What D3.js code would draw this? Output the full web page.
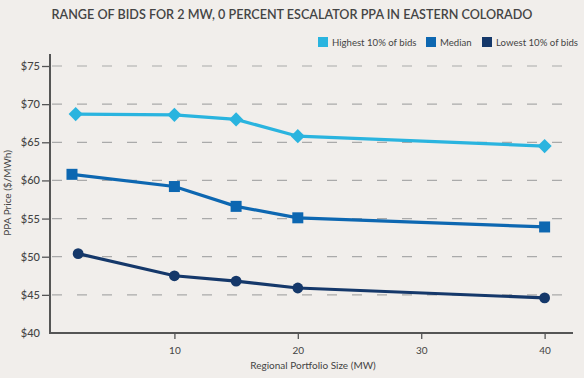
<!DOCTYPE html>
<html><head><meta charset="utf-8">
<script src="https://cdn.jsdelivr.net/npm/d3@7"></script>
<style>
html,body{margin:0;padding:0;background:#f1eeeb;}
text{font-family:Lato,"Open Sans",sans-serif;}
</style></head>
<body><svg id="c" width="584" height="378"></svg>
<script>
const title = "RANGE OF BIDS FOR 2 MW, 0 PERCENT ESCALATOR PPA IN EASTERN COLORADO";
const seriesNames = ["Highest 10% of bids", "Median", "Lowest 10% of bids"];
const seriesColors = ["#2ab4df", "#0d67b1", "#15386a"];
const highestX = [2, 10, 15, 20, 40];
const highestY = [68.7, 68.6, 68.0, 65.8, 64.5];
const medianX = [1.7, 10, 15, 20, 40];
const medianY = [60.8, 59.2, 56.6, 55.1, 53.9];
const lowestX = [2.2, 10, 15, 20, 40];
const lowestY = [50.4, 47.5, 46.8, 45.9, 44.6];
const xTicks = [10, 20, 30, 40];
const yTicks = [40, 45, 50, 55, 60, 65, 70, 75];
const xLabel = "Regional Portfolio Size (MW)";
const yLabel = "PPA Price ($/MWh)";

const svg = d3.select("#c");
const x = d3.scaleLinear().domain([0, 42.3]).range([51, 573]);
const y = d3.scaleLinear().domain([40, 75]).range([333, 66]);

svg.append("text").attr("x", 292).attr("y", 19).attr("text-anchor", "middle")
  .attr("font-size", 12.6).attr("fill", "#444").attr("font-weight", 600).text(title);

// grid
svg.append("g").selectAll("line").data(yTicks.filter(d => d > 40)).join("line")
  .attr("x1", 52).attr("x2", 575).attr("y1", d => y(d)).attr("y2", d => y(d))
  .attr("stroke", "#aaa").attr("stroke-width", 1.2).attr("stroke-dasharray", "10,15");

// y axis
const ya = svg.append("g").attr("transform", "translate(50,0)")
  .call(d3.axisLeft(y).tickValues(yTicks).tickFormat(d => "$" + d).tickSize(8).tickPadding(3));
ya.select(".domain").attr("stroke", "#555").attr("stroke-width", 2).attr("d", `M0,54V${y(40)}`);
ya.selectAll(".tick line").attr("stroke", "#555").attr("stroke-width", 1.3);
ya.selectAll(".tick").filter(d => d === 40).select("line").remove();
ya.selectAll(".tick text").attr("font-size", 11).attr("fill", "#444").attr("font-weight", 500)
  .attr("font-family", "Lato, sans-serif").attr("x", -10);

// x axis
const xa = svg.append("g").attr("transform", `translate(0,${y(40)})`)
  .call(d3.axisBottom(x).tickValues(xTicks).tickSize(6).tickPadding(8));
xa.select(".domain").attr("stroke", "#555").attr("stroke-width", 2).attr("d", "M49,0H573");
xa.selectAll(".tick line").attr("stroke", "#555").attr("stroke-width", 1.3);
xa.selectAll(".tick text").attr("font-size", 10).attr("fill", "#444").attr("font-family", "Lato, sans-serif");

svg.append("text").attr("x", 313).attr("y", 369).attr("text-anchor", "middle")
  .attr("font-size", 10).attr("fill", "#444").text(xLabel);
svg.append("text").attr("transform", "translate(11,193) rotate(-90)").attr("text-anchor", "middle")
  .attr("font-size", 10).attr("fill", "#444").text(yLabel);

const series = [
  {xs: highestX, ys: highestY, shape: "diamond"},
  {xs: medianX, ys: medianY, shape: "square"},
  {xs: lowestX, ys: lowestY, shape: "circle"}
];
const line = d3.line().x(d => x(d[0])).y(d => y(d[1]));
series.forEach((s, i) => {
  const pts = s.xs.map((v, j) => [v, s.ys[j]]);
  const g = svg.append("g");
  g.append("path").datum(pts).attr("d", line).attr("fill", "none")
    .attr("stroke", seriesColors[i]).attr("stroke-width", 3.2);
  if (s.shape === "circle") {
    g.selectAll("circle").data(pts).join("circle").attr("cx", d => x(d[0])).attr("cy", d => y(d[1]))
      .attr("r", 5.4).attr("fill", seriesColors[i]);
  } else if (s.shape === "square") {
    g.selectAll("rect").data(pts).join("rect").attr("x", d => x(d[0]) - 5.5).attr("y", d => y(d[1]) - 5.5)
      .attr("width", 11).attr("height", 11).attr("fill", seriesColors[i]);
  } else {
    g.selectAll("path.m").data(pts).join("path").attr("class", "m")
      .attr("transform", d => `translate(${x(d[0])},${y(d[1])}) rotate(45)`)
      .attr("d", d3.symbol().type(d3.symbolSquare).size(100)).attr("fill", seriesColors[i]);
  }
});

// legend
const legX = [318, 426, 482];
const lg = svg.append("g");
seriesNames.forEach((n, i) => {
  lg.append("rect").attr("x", legX[i]).attr("y", 37).attr("width", 10).attr("height", 10).attr("fill", seriesColors[i]);
  lg.append("text").attr("x", legX[i] + 14).attr("y", 46).attr("font-size", 9.6).attr("fill", "#444").text(n);
});
</script></body></html>
